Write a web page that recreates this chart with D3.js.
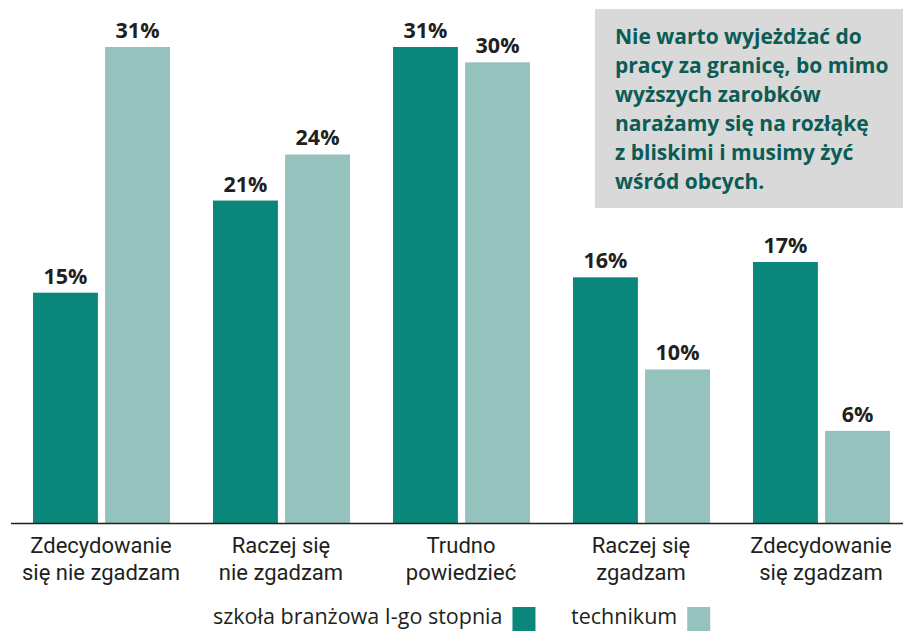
<!DOCTYPE html>
<html>
<head>
<meta charset="utf-8">
<script src="https://cdn.jsdelivr.net/npm/d3@7"></script>
<style>
  body { margin: 0; background: #fff; }
  svg { font-family: "Open Sans", "Noto Sans", sans-serif; }
  .cat { font-family: Roboto, "Open Sans", sans-serif; }
</style>
</head>
<body>
<svg id="chart" width="903" height="631"></svg>
<script>
const categories = [
  ['Zdecydowanie', 'się nie zgadzam'],
  ['Raczej się', 'nie zgadzam'],
  ['Trudno', 'powiedzieć'],
  ['Raczej się', 'zgadzam'],
  ['Zdecydowanie', 'się zgadzam']
];
const seriesNames = ['szkoła branżowa I-go stopnia', 'technikum'];
const branzowa = [15, 21, 31, 16, 17];
const technikum = [31, 24, 30, 10, 6];
const noteLines = [
  'Nie warto wyjeżdżać do',
  'pracy za granicę, bo mimo',
  'wyższych zarobków',
  'narażamy się na rozłąkę',
  'z bliskimi i musimy żyć',
  'wśród obcych.'
];

const colors = ['#0b867a', '#95c2bc'];
const svg = d3.select('#chart');
const baseline = 523;

const data = categories.map((c, i) => ({ i, values: [branzowa[i], technikum[i]] }));

const x0 = d3.scaleBand()
    .domain(d3.range(categories.length))
    .range([11, 911]);

const x1 = d3.scaleBand()
    .domain([0, 1])
    .range([22, 159])
    .paddingInner(0.1);

const y = d3.scaleLinear()
    .domain([0, 31])
    .range([baseline, 47]);

// bars
const groups = svg.selectAll('.group')
  .data(data)
  .join('g')
    .attr('class', 'group')
    .attr('transform', d => `translate(${x0(d.i)},0)`);

groups.selectAll('rect')
  .data(d => d.values.map((v, k) => ({ v, k })))
  .join('rect')
    .attr('x', d => x1(d.k))
    .attr('width', x1.bandwidth())
    .attr('y', d => y(d.v))
    .attr('height', d => baseline - y(d.v))
    .attr('fill', d => colors[d.k]);

groups.selectAll('.val')
  .data(d => d.values.map((v, k) => ({ v, k })))
  .join('text')
    .attr('class', 'val')
    .attr('x', d => x1(d.k) + x1.bandwidth() / 2)
    .attr('y', d => y(d.v) - 9)
    .attr('text-anchor', 'middle')
    .style('font-size', '21.5px')
    .style('font-weight', 700)
    .style('fill', '#231f20')
    .text(d => d.v + '%');

// axis line
svg.append('line')
    .attr('x1', 11).attr('x2', 903)
    .attr('y1', baseline + 0.5).attr('y2', baseline + 0.5)
    .attr('stroke', '#231f20')
    .attr('stroke-width', 1.3);

// category labels, one text per line
groups.each(function(d) {
  categories[d.i].forEach((line, j) => {
    d3.select(this).append('text')
      .attr('class', 'cat')
      .attr('x', 90)
      .attr('y', 553 + j * 26.5)
      .attr('text-anchor', 'middle')
      .style('font-size', '22px')
      .style('fill', '#231f20')
      .text(line);
  });
});

// legend
const legendX = [213, 571];
seriesNames.forEach((name, k) => {
  const t = svg.append('text')
      .attr('x', legendX[k])
      .attr('y', 624)
      .style('font-size', '21.5px')
      .style('fill', '#231f20')
      .text(name);
  const w = t.node().getComputedTextLength();
  svg.append('rect')
      .attr('x', legendX[k] + w + 10)
      .attr('y', 607)
      .attr('width', 23)
      .attr('height', 24)
      .attr('fill', colors[k]);
});

// note box
svg.append('rect')
    .attr('x', 595).attr('y', 9)
    .attr('width', 308).attr('height', 199)
    .attr('fill', '#d9d9d9');

const note = svg.append('text')
    .style('font-size', '21px')
    .style('font-weight', 700)
    .style('fill', '#0a5c55');
noteLines.forEach((line, j) => {
  note.append('tspan')
    .attr('x', 615)
    .attr('y', 44 + j * 29)
    .text(line);
});
</script>
</body>
</html>
